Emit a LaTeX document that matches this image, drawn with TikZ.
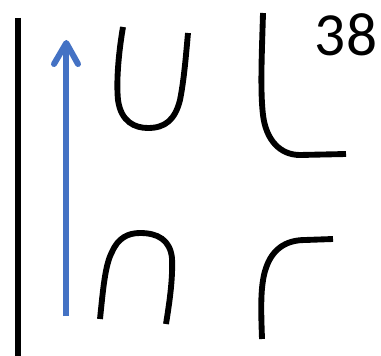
\documentclass[tikz,border=0pt]{standalone}
\usepackage{fontspec}
\setmainfont{Carlito}
\definecolor{arrowblue}{HTML}{4472C4}
\begin{document}
\begin{tikzpicture}[x=0.75pt,y=-0.75pt,
  stroke/.style={line width=4.4pt,black},
  bluearrow/.style={line width=4.5pt,arrowblue,line cap=round,line join=round}]
\useasboundingbox (0,0) rectangle (381,356);
% left bar
\draw[line width=4.6pt] (18.3,18) -- (18.3,356);
% blue arrow
\coordinate (arrowfoot) at (66.3,316);
\coordinate (arrowtip) at (66.3,43);
\draw[line width=4.5pt,arrowblue] (arrowfoot) -- (arrowtip);
\draw[bluearrow] (54,64) -- (arrowtip) -- (78,64);
% U shape
\draw[stroke] (123,27) .. controls (119,50) and (116,80) .. (118,100)
  .. controls (121,122) and (135,128) .. (148,128)
  .. controls (165,128) and (175,120) .. (180,100)
  .. controls (184,80) and (186,55) .. (188,33);
% L shape
\draw[stroke] (263,13) .. controls (262,50) and (260,90) .. (263,115)
  .. controls (266,140) and (280,155) .. (300,155) -- (346,154);
% cap shape
\draw[stroke] (100,319) .. controls (103,290) and (105,265) .. (112,252)
  .. controls (118,238) and (128,233) .. (140,233)
  .. controls (158,233) and (170,240) .. (172,258)
  .. controls (173,280) and (169,305) .. (166,324);
% Gamma shape
\draw[stroke] (262,339) .. controls (261,310) and (260,285) .. (266,268)
  .. controls (272,250) and (285,240) .. (305,240) -- (333,239);
% number
\node[inner sep=0pt,font=\fontsize{46}{46}\selectfont] (num) at (346,35) {38};
\end{tikzpicture}
\end{document}
